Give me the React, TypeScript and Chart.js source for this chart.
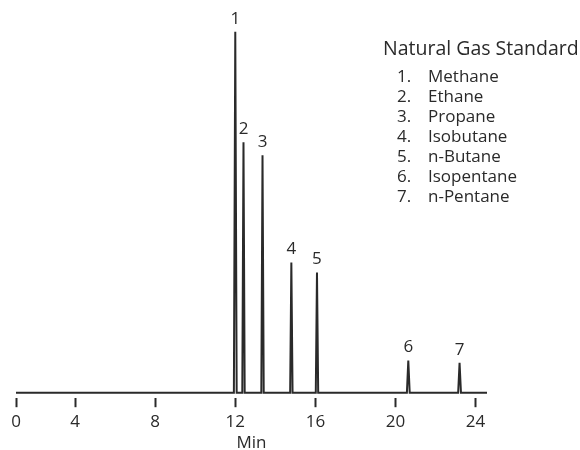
import React, { useEffect, useRef } from "react";
import { Chart, registerables } from "chart.js";

Chart.register(...registerables);

// Peak identification
const peakNumbers = ["1", "2", "3", "4", "5", "6", "7"];
const compounds = ["Methane", "Ethane", "Propane", "Isobutane", "n-Butane", "Isopentane", "n-Pentane"];
// Retention times (min) and detector response (relative units)
const retentionTimes = [12.0, 12.41, 13.36, 14.8, 16.08, 20.64, 23.2];
const peakHeights = [100, 69.4, 65.8, 36.1, 33.3, 8.9, 8.3];
// Peak half-width at base (min)
const peakHalfWidths = [0.07, 0.06, 0.06, 0.06, 0.06, 0.07, 0.07];

// Recorded run window (min)
const runStart = 1.05;
const runEnd = 24.57;

// Time axis ticks
const xTickValues = [1.05, 4, 8, 12, 16, 20, 24];
const xTickLabels = ["0", "4", "8", "12", "16", "20", "24"];

const chartTitle = "Natural Gas Standard";
const axisTitle = "Min";

const INK = "#2a2a2a";
const FONT = "'Open Sans', 'DejaVu Sans', sans-serif";

function buildTrace() {
  const pts: { x: number; y: number }[] = [{ x: runStart, y: 0 }];
  retentionTimes.forEach((t, i) => {
    const w = peakHalfWidths[i];
    pts.push({ x: t - w, y: 0 });
    pts.push({ x: t, y: peakHeights[i] });
    pts.push({ x: t + w, y: 0 });
  });
  pts.push({ x: runEnd, y: 0 });
  return pts;
}

const annotationPlugin = {
  id: "peakAnnotations",
  afterDatasetsDraw(chart: any) {
    const { ctx, scales } = chart;
    const xs = scales.x;
    const ys = scales.y;
    ctx.save();
    ctx.fillStyle = INK;
    // peak numbers above each apex
    ctx.font = `17px ${FONT}`;
    ctx.textAlign = "center";
    ctx.textBaseline = "middle";
    retentionTimes.forEach((t, i) => {
      const px = xs.getPixelForValue(t);
      const py = ys.getPixelForValue(peakHeights[i]);
      ctx.fillText(peakNumbers[i], px, py - 13);
    });
    // compound key
    ctx.textAlign = "left";
    ctx.font = `19.5px ${FONT}`;
    ctx.fillText(chartTitle, 383, 49);
    ctx.font = `17px ${FONT}`;
    compounds.forEach((name, i) => {
      const y = 77 + i * 20;
      ctx.fillText(`${peakNumbers[i]}.`, 397, y);
      ctx.fillText(name, 428, y);
    });
    ctx.restore();
  },
};

export default function App() {
  const canvasRef = useRef<HTMLCanvasElement | null>(null);

  useEffect(() => {
    if (!canvasRef.current) return;
    const chart = new Chart(canvasRef.current, {
      type: "line",
      data: {
        datasets: [
          {
            data: buildTrace(),
            borderColor: INK,
            borderWidth: 2,
            pointRadius: 0,
            tension: 0,
            fill: false,
          },
        ],
      },
      options: {
        responsive: false,
        animation: false,
        layout: { padding: { left: 16, right: 93, top: 10, bottom: 2 } },
        plugins: {
          legend: { display: false },
          tooltip: { enabled: false },
        },
        scales: {
          x: {
            type: "linear",
            min: runStart,
            max: runEnd,
            border: { display: false },
            grid: {
              drawOnChartArea: false,
              drawTicks: true,
              tickLength: 9,
              tickWidth: 2,
              tickColor: INK,
            },
            afterBuildTicks: (scale: any) => {
              scale.ticks = xTickValues.map((v) => ({ value: v }));
            },
            ticks: {
              autoSkip: false,
              maxRotation: 0,
              padding: 5,
              color: INK,
              font: { family: FONT, size: 17 },
              callback: (_v: any, i: number) => xTickLabels[i],
            },
            title: {
              display: true,
              text: axisTitle,
              color: INK,
              font: { family: FONT, size: 17 },
              padding: { top: -5, bottom: 0 },
            },
          },
          y: {
            display: false,
            min: -1.5,
            max: 106,
          },
        },
      },
      plugins: [annotationPlugin],
    });
    return () => chart.destroy();
  }, []);

  return (
    <div style={{ position: "fixed", left: 0, top: 0, width: 580, height: 450, overflow: "hidden", background: "#fff" }}>
      <canvas ref={canvasRef} width={580} height={455} style={{ display: "block" }} />
    </div>
  );
}
